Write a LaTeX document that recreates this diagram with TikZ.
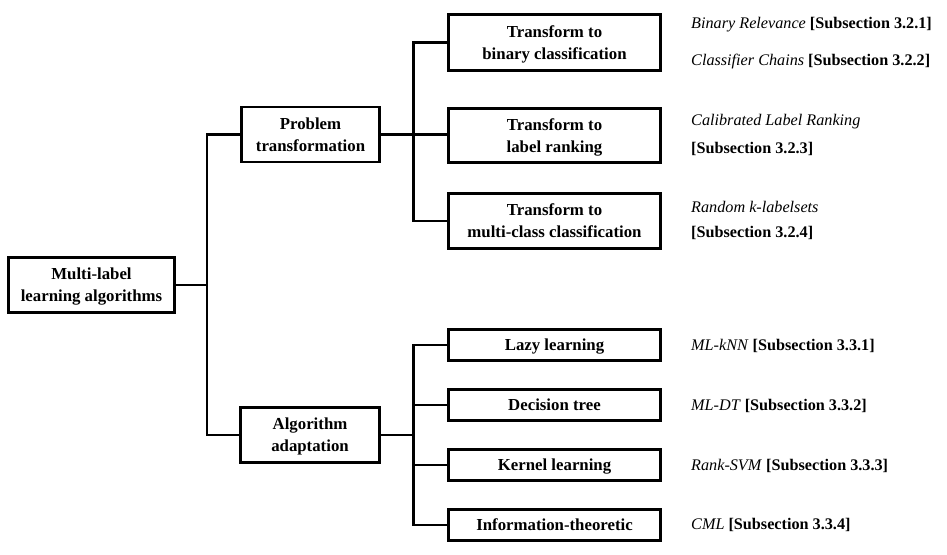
\documentclass[tikz,border=0pt]{standalone}
\usepackage{fontspec}
\setmainfont{Liberation Serif}
\usepackage{tikz}

\begin{document}
\begin{tikzpicture}[x=1pt, y=-1pt,
	box/.style={draw, line width=2.6pt, align=center, inner sep=0pt, text depth=0pt, font=\fontsize{16.8}{22}\selectfont\bfseries},
	wire/.style={line width=2.6pt},
	ref/.style={anchor=west, inner sep=0pt, font=\fontsize{16.2}{20}\selectfont}]
	\useasboundingbox (0,0) rectangle (947,554);
	% level 1
	\node[box, minimum width=166pt, minimum height=55pt] (root) at (91.5,285) {Multi-label\\learning algorithms};
	% level 2
	\node[box, minimum width=138pt, minimum height=55pt] (pt) at (310.5,134.5) {Problem\\transformation};
	\node[box, minimum width=139pt, minimum height=55pt] (aa) at (310,435) {Algorithm\\adaptation};
	% level 3, problem transformation
	\node[box, minimum width=212pt, minimum height=56pt] (tb) at (554.5,42.5) {Transform to\\binary classification};
	\node[box, minimum width=212pt, minimum height=54pt] (tl) at (554.5,135.5) {Transform to\\label ranking};
	\node[box, minimum width=212pt, minimum height=55pt] (tm) at (554.5,221) {Transform to\\multi-class classification};
	% level 3, algorithm adaptation
	\node[box, minimum width=212pt, minimum height=31pt] (lz) at (554.5,345) {Lazy learning};
	\node[box, minimum width=212pt, minimum height=31pt] (dt) at (554.5,405) {Decision tree};
	\node[box, minimum width=212pt, minimum height=31pt] (kl) at (554.5,465) {Kernel learning};
	\node[box, minimum width=212pt, minimum height=31pt] (it) at (554.5,525) {Information-theoretic};
	% joints
	\coordinate (j1) at (207,285);
	\coordinate (j2) at (413.5,134.5);
	\coordinate (j3) at (413.5,435);
	% connectors
	\draw[wire] (root.east) -- (j1);
	\draw[wire] (pt.west) -| (j1) |- (aa.west);
	\draw[wire] (pt.east) -- (j2);
	\draw[wire] (tb.west) -| (j2) |- (tm.west);
	\draw[wire] (j2) -- (j2 -| tl.west);
	\draw[wire] (aa.east) -- (j3);
	\draw[wire] (lz.west) -| (j3) |- (it.west);
	\draw[wire] (dt.west) -- (dt.west -| j3);
	\draw[wire] (kl.west) -- (kl.west -| j3);
	% references
	\node[ref] (br) at (691,25) {\textit{Binary Relevance} \textbf{[Subsection 3.2.1]}};
	\node[ref] (cc) at (691,62) {\textit{Classifier Chains} \textbf{[Subsection 3.2.2]}};
	\node[ref] (clr) at (691,122) {\textit{Calibrated Label Ranking}};
	\node[ref] (clrs) at (691,149) {\textbf{[Subsection 3.2.3]}};
	\node[ref] (rk) at (691,207) {\textit{Random k-labelsets}};
	\node[ref] (rks) at (691,233) {\textbf{[Subsection 3.2.4]}};
	\node[ref] (mlknn) at (691,346) {\textit{ML-kNN} \textbf{[Subsection 3.3.1]}};
	\node[ref] (mldt) at (691,406) {\textit{ML-DT} \textbf{[Subsection 3.3.2]}};
	\node[ref] (rsvm) at (691,466) {\textit{Rank-SVM} \textbf{[Subsection 3.3.3]}};
	\node[ref] (cml) at (691,525) {\textit{CML} \textbf{[Subsection 3.3.4]}};
\end{tikzpicture}
\end{document}
